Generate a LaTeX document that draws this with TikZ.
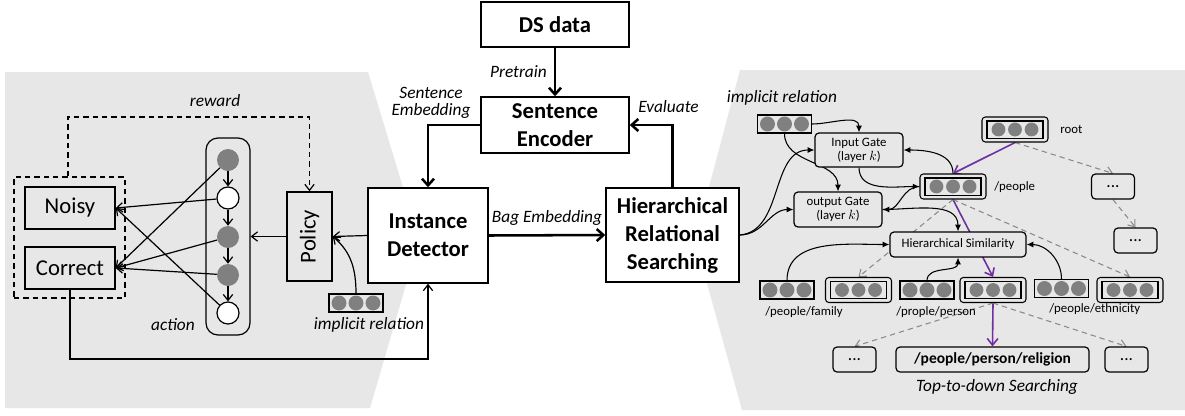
\documentclass[tikz,border=0pt]{standalone}
\usepackage{fontspec}
\setmainfont{Carlito}
\usetikzlibrary{arrows.meta,calc}
\definecolor{panel}{HTML}{E7E7E7}
\definecolor{cgray}{HTML}{808080}
\definecolor{purp}{HTML}{7030A0}
\definecolor{dgray}{HTML}{8A8A8A}
\pgfdeclarelayer{back}\pgfdeclarelayer{mid}\pgfsetlayers{back,mid,main}
\newcommand\fBig{\fontsize{17}{21}\selectfont}
\newcommand\fLab{\fontsize{13}{12.5}\selectfont\itshape}
\newcommand\fSm{\fontsize{9.6}{10.5}\selectfont}
\begin{document}
\begin{tikzpicture}[x=0.75pt,y=-0.75pt,
  sz/.style 2 args={minimum width=#1*0.75pt, minimum height=#2*0.75pt},
  box/.style={draw, line width=1.1pt, inner sep=0pt, align=center},
  rbox/.style={draw, line width=0.9pt, rounded corners=3pt, fill=panel, inner sep=0pt, align=center, font=\fSm},
  dbox3/.style={rbox, sz={43}{25}, font=\fontsize{13}{13}\selectfont},
  circs/.style 2 args={path picture={\foreach \dx in {-#1,0pt,#1}\fill[cgray] ([xshift=\dx]path picture bounding box.center) circle (#2);}},
  emb/.style={draw, fill=panel, line width=0.8pt, sz={54}{18}, inner sep=0pt, circs={12.75pt}{5.6pt}},
  demb/.style={draw, fill=panel, line width=0.8pt, rounded corners=2.5pt, sz={66}{25}, inner sep=0pt,
     path picture={\draw[line width=0.8pt, sharp corners] ([xshift=-21pt,yshift=-6.4pt]path picture bounding box.center) rectangle ([xshift=21pt,yshift=6.4pt]path picture bounding box.center);
       \foreach \dx in {-12.4pt,0pt,12.4pt}\fill[cgray] ([xshift=\dx]path picture bounding box.center) circle (5.2pt);}},
  cg/.style={circle, fill=cgray, minimum size=16.5pt, inner sep=0pt},
  cw/.style={circle, draw, fill=white, line width=0.9pt, minimum size=16.5pt, inner sep=0pt},
  thk/.style={line width=1.9pt, -{Straight Barb[length=5pt,width=9pt]}},
  arr/.style={line width=0.9pt, -{Straight Barb[length=4.5pt,width=7pt]}},
  rwd/.style={line width=0.9pt, dash pattern=on 4pt off 3pt, -{Straight Barb[length=4.5pt,width=7pt]}},
  bk/.style={line width=0.8pt, -{Latex[length=5pt,width=4.5pt]}},
  pur/.style={line width=1.2pt, draw=purp, -{Straight Barb[length=5pt,width=8pt]}},
  gd/.style={line width=0.8pt, draw=dgray, dash pattern=on 4pt off 3pt, -{Straight Barb[length=4.5pt,width=7pt]}},
  lab/.style={inner sep=0pt, font=\fLab, align=center},
  slab/.style={inner sep=0pt, font=\fSm, anchor=west}]
\useasboundingbox (0,0) rectangle (1185,415);
\begin{pgfonlayer}{back}
\fill[white] (0,0) rectangle (1185,415);
\fill[panel] (5,72) -- (368,72) -- (419,240) -- (370,408) -- (5,408) -- cycle;
\fill[panel] (740,70) -- (1185,70) -- (1185,410) -- (742,410) -- (695,240) -- cycle;
\node[draw, line width=0.9pt, rounded corners=9pt, minimum width=33pt, minimum height=147.75pt, fill=panel] (col) at (228,236.5) {};
\end{pgfonlayer}

% centre
\node[box, sz={148}{45}, fill=white, font=\fBig\bfseries] (ds) at (555,24.5) {DS data};
\node[box, sz={148}{56}, fill=white, font=\fBig\bfseries] (se) at (555,125) {Sentence\\Encoder};
\node[box, sz={120}{95}, fill=white, font=\fBig\bfseries] (id) at (428,235.5) {Instance\\Detector};
\node[box, sz={133}{94}, fill=white, font=\fBig\bfseries] (hrs) at (672.5,235) {Hierarchical\\Relational\\Searching};
\node[lab, anchor=east] (pre) at (547,72) {Pretrain};
\node[lab] (sem) at (431,103) {Sentence\\Embedding};
\node[lab, anchor=west] (eva) at (638,107) {Evaluate};
\node[lab] (bag) at (547,218) {Bag Embedding};

% left panel
\node[box, sz={90}{42}, fill=panel, font=\fBig] (noisy) at (70,208) {Noisy};
\node[box, sz={90}{42}, fill=panel, font=\fBig] (correct) at (70,268) {Correct};
\node[draw, line width=0.9pt, dash pattern=on 4pt off 3pt, sz={111}{121}] (dbox) at (69.5,237.5) {};
\node[box, sz={45}{89}, fill=panel, font=\fBig] (policy) at (309.5,236.5) {\rotatebox{90}{Policy}};
\node[cg] (c1) at (228,160) {};
\node[cw] (c2) at (228,198) {};
\node[cg] (c3) at (228,237) {};
\node[cg] (c4) at (228,275) {};
\node[cw] (c5) at (228,313) {};
\node[emb] (impL) at (356,303) {};
\node[lab] (rwl) at (215,101) {reward};
\node[lab] (act) at (173,325) {action};
\node[lab] (impLl) at (369,325) {implicit relation};

% right panel
\node[emb] (impR) at (784.5,124) {};
\node[lab] (impRl) at (782,98) {implicit relation};
\node[rbox, sz={88}{34}] (ig) at (859,150) {Input Gate\\(layer $k$)};
\node[rbox, sz={88}{35}] (og) at (838,209.5) {output Gate\\(layer $k$)};
\node[rbox, sz={136}{25}] (hs) at (958,244.5) {Hierarchical Similarity};
\node[demb] (people) at (953,186.5) {};
\node[slab] (peoplel) at (994,187) {/people};
\node[demb] (root) at (1015,129.5) {};
\node[slab] (rootl) at (1060,129) {root};
\node[dbox3] (dots1) at (1113,186.5) {...};
\node[dbox3] (dots2) at (1135.5,240.5) {...};
\node[emb] (famS) at (787,290) {};
\node[demb] (famD) at (858.5,290) {};
\node[emb] (perS) at (927,290) {};
\node[demb] (perD) at (993,290) {};
\node[emb] (ethS) at (1061.5,288.5) {};
\node[demb] (ethD) at (1130,290) {};
\node[slab] (faml) at (765,312) {/people/family};
\node[slab] (perl) at (896,312) {/prople/person};
\node[slab] (ethl) at (1049,309) {/people/ethnicity};
\node[dbox3] (dotsL) at (854.5,359.5) {...};
\node[rbox, sz={193}{25}, font=\fontsize{11.6}{12}\selectfont\bfseries] (rel) at (992.5,359.5) {/people/person/religion};
\node[dbox3] (dotsR) at (1126.5,359.5) {...};
\node[lab] (tds) at (997,387) {Top-to-down Searching};

\begin{pgfonlayer}{mid}
% centre
\draw[thk] (ds) -- (se);
\draw[thk] (se.west) -| (id.north);
\draw[thk] (hrs.north) |- (se.east);
\draw[thk] (id.east) -- (hrs.west);
% left
\coordinate (rw) at (68,117);
\draw[rwd] (rw |- dbox.north) -- (rw) -| (policy.north);
\draw[arr] (policy.west) -- (col.east);
\draw[arr] (id.west) -- (policy.east);
\draw[arr] (impL.north) to[out=90,in=-40] (policy.east);
\foreach \a/\b in {c1/c2,c2/c3,c3/c4,c4/c5} \draw[arr] (\a) -- (\b);
\draw[arr] (c1) -- (correct.east);
\draw[arr] (c2) -- (noisy.east);
\draw[arr] (c3) -- (correct.east);
\draw[arr] (c4) -- (correct.east);
\draw[arr] (c5) -- (noisy.east);
\coordinate (fb) at (428,359);
\draw[arr] (correct.south) |- (fb) -- (id.south);
% right
\draw[bk] (hrs.east) to[out=5,in=180] (ig.west);
\draw[bk] (hrs.east) to[out=0,in=180] (og.west);
\draw[bk] (impR.east) to[out=0,in=90] (ig.north);
\draw[bk] (impR.south) to[out=-90,in=90] (og.north);
\draw[bk] (ig.south) to[out=-90,in=180] (people.west);
\draw[bk] (people.north) to[out=90,in=0] (ig.east);
\draw[bk] (people.west) to[out=180,in=0] (og.east);
\draw[bk] (og.east) to[out=0,in=90] (hs.north);
\draw[bk] (famS.north) to[out=90,in=180] (hs.west);
\draw[bk] (perS.north) to[out=90,in=-90] (hs.south);
\draw[bk] (ethS.north) to[out=90,in=0] (hs.east);
\draw[pur] (root.south) -- (people.north);
\draw[pur] (people.south) -- (perD.north);
\draw[pur] (perD.south) -- (rel.north);
\draw[gd] (root.south) -- (dots1.north);
\draw[gd] (dots1.south) -- (dots2.north);
\draw[gd] (people.south) -- (famD.north);
\draw[gd] (people.south) -- (ethD.north);
\draw[gd] (perD.south) -- (dotsL.north);
\draw[gd] (perD.south) -- (dotsR.north);
\end{pgfonlayer}
\end{tikzpicture}
\end{document}
